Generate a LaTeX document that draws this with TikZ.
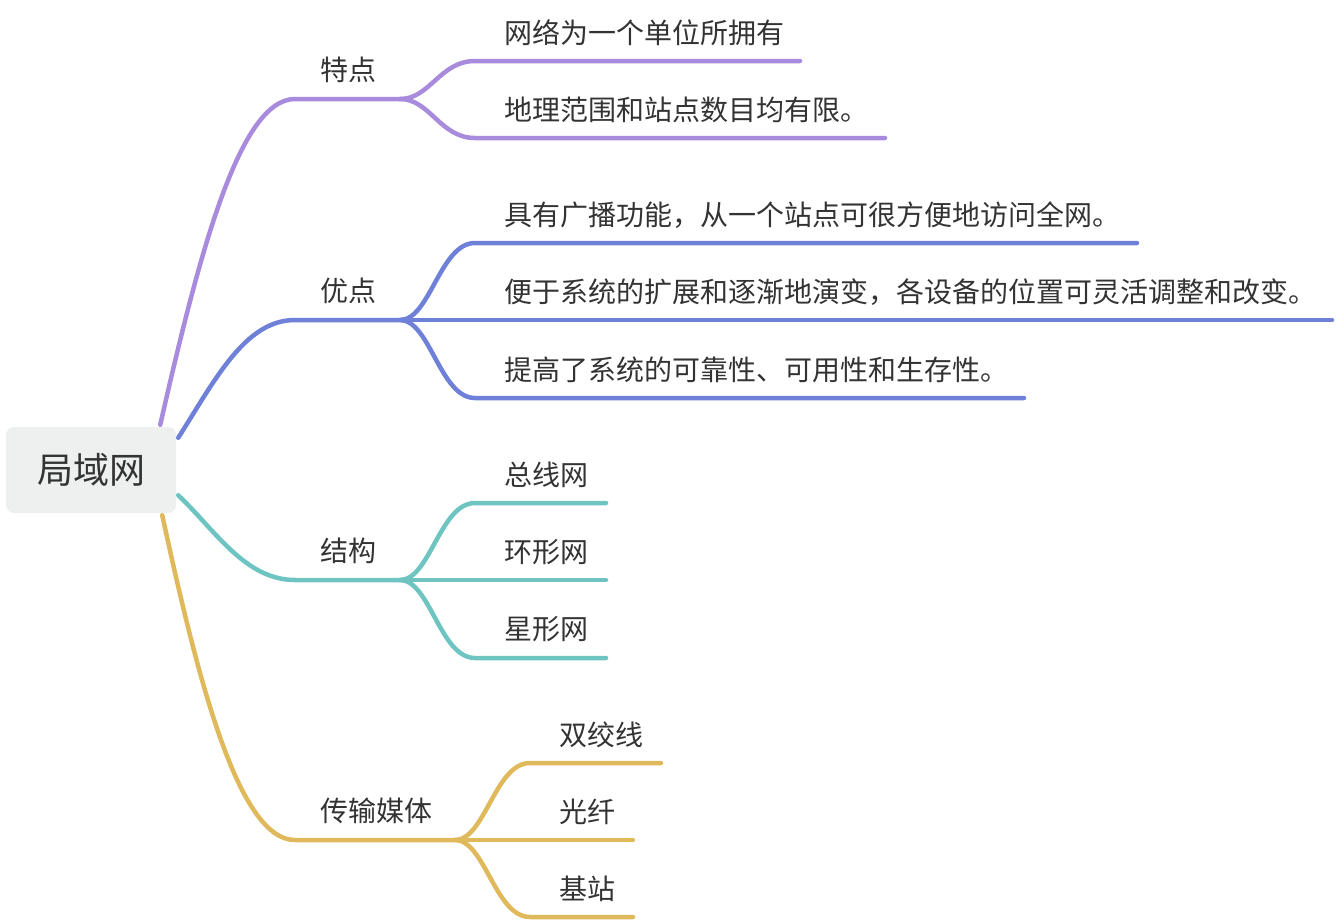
\documentclass[tikz,border=0pt]{standalone}
\usepackage{fontspec}
\setmainfont{Noto Sans CJK SC}
\usetikzlibrary{positioning}
\definecolor{cpurple}{HTML}{A98BDE}
\definecolor{cblue}{HTML}{6F80D9}
\definecolor{cteal}{HTML}{6DC4C1}
\definecolor{cyellow}{HTML}{DFB95B}
\definecolor{ctext}{HTML}{333333}
\definecolor{cbox}{HTML}{EEF0F0}
\begin{document}
\begin{tikzpicture}[x=1pt,y=-1pt,line width=4.5pt,line cap=round,
 txt/.style={text=ctext,font=\fontsize{28}{33}\selectfont,inner sep=0pt,anchor=west},
 rootbox/.style={fill=cbox,rounded corners=8pt,minimum width=170pt,minimum height=86pt,
  text=ctext,font=\fontsize{36}{42}\selectfont}]
 \useasboundingbox (0,0) rectangle (1336,922);
 \node[rootbox] (root) at (91,470) {局域网};
 % first level
 \coordinate (p1) at (295,99); \coordinate (f1) at (400,99);
 \coordinate (p2) at (295,320); \coordinate (f2) at (400,320);
 \coordinate (p3) at (295,580); \coordinate (f3) at (400,580);
 \coordinate (p4) at (295,840); \coordinate (f4) at (455,840);
 \node[txt] (tedian) at (318,70) {特点};
 \node[txt] (youdian) at (318,291) {优点};
 \node[txt] (jiegou) at (318,551) {结构};
 \node[txt] (meiti) at (318,811) {传输媒体};
 \draw[cpurple] ([xshift=-18pt]root.north east) .. controls (200,250) and (240,99) .. (p1) -- (f1);
 \draw[cblue] ([yshift=-13pt]root.north east) .. controls (215,380) and (245,320) .. (p2) -- (f2);
 \draw[cteal] ([yshift=20pt]root.south east) .. controls (215,530) and (245,580) .. (p3) -- (f3);
 \draw[cyellow] ([xshift=-16pt]root.south east) .. controls (200,690) and (240,840) .. (p4) -- (f4);
 % second level
 \node[txt] (a1) at (502,33) {网络为一个单位所拥有};
 \node[txt] (a2) at (502,110) {地理范围和站点数目均有限。};
 \coordinate (ae1) at (800,61); \coordinate (ae2) at (885,138);
 \draw[cpurple] (f1) .. controls (430,99) and (440,61) .. (475,61) -- (ae1);
 \draw[cpurple] (f1) .. controls (430,99) and (440,138) .. (475,138) -- (ae2);
 \node[txt] (b1) at (502,215) {具有广播功能，从一个站点可很方便地访问全网。};
 \node[txt] (b2) at (502,292) {便于系统的扩展和逐渐地演变，各设备的位置可灵活调整和改变。};
 \node[txt] (b3) at (502,370) {提高了系统的可靠性、可用性和生存性。};
 \coordinate (be1) at (1137,243); \coordinate (be2) at (1332,320); \coordinate (be3) at (1024,398);
 \draw[cblue] (f2) .. controls (430,320) and (440,243) .. (475,243) -- (be1);
 \draw[cblue] (f2) -- (be2);
 \draw[cblue] (f2) .. controls (430,320) and (440,398) .. (475,398) -- (be3);
 \node[txt] (c1) at (502,475) {总线网};
 \node[txt] (c2) at (502,552) {环形网};
 \node[txt] (c3) at (502,629) {星形网};
 \coordinate (ce1) at (606,503); \coordinate (ce2) at (606,580); \coordinate (ce3) at (606,658);
 \draw[cteal] (f3) .. controls (430,580) and (440,503) .. (475,503) -- (ce1);
 \draw[cteal] (f3) -- (ce2);
 \draw[cteal] (f3) .. controls (430,580) and (440,658) .. (475,658) -- (ce3);
 \node[txt] (d1) at (557,735) {双绞线};
 \node[txt] (d2) at (557,812) {光纤};
 \node[txt] (d3) at (557,889) {基站};
 \coordinate (de1) at (661,763); \coordinate (de2) at (633,840); \coordinate (de3) at (633,917);
 \draw[cyellow] (f4) .. controls (485,840) and (495,763) .. (530,763) -- (de1);
 \draw[cyellow] (f4) -- (de2);
 \draw[cyellow] (f4) .. controls (485,840) and (495,917) .. (530,917) -- (de3);
\end{tikzpicture}
\end{document}
